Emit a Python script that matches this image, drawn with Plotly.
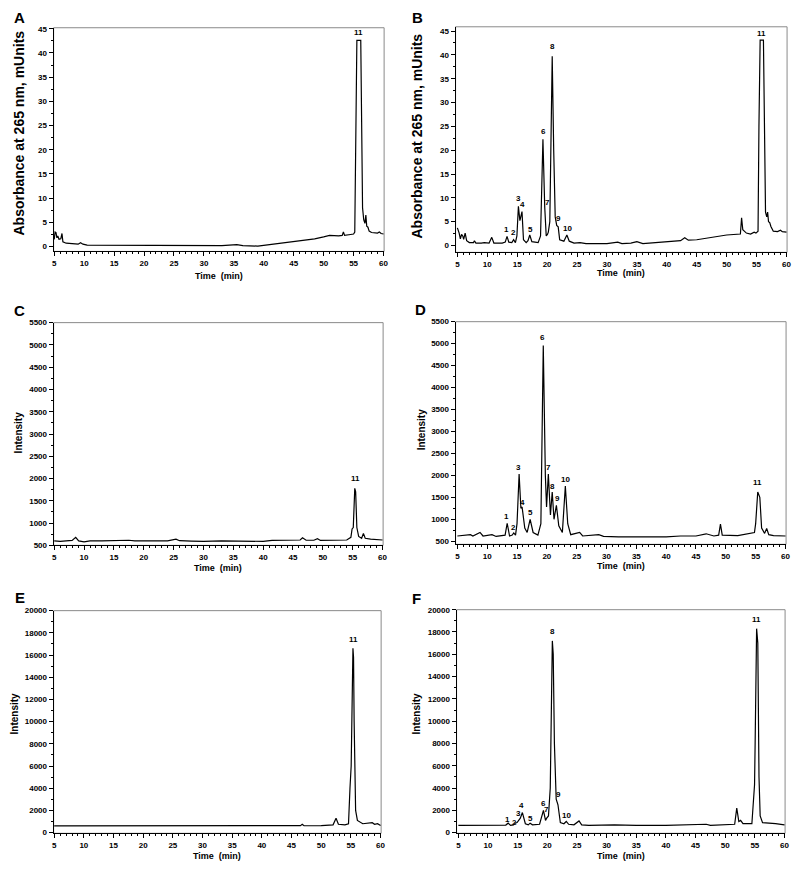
import plotly.graph_objects as go

# ---------------- data ----------------
# Panel A : absorbance (mUnits) vs time (min)
tA = [5.0, 5.15, 5.3, 5.45, 5.6, 5.8, 6.1, 6.3, 6.45, 7.0, 8.0, 9.0, 9.4, 9.8, 10.5, 15, 20, 24, 27, 30, 33,
      35.5, 36.5, 39, 41, 43, 45, 47, 48.5, 50, 51, 52.5, 53.1, 53.3, 53.5, 54.5, 55.0, 55.2, 55.35, 55.45,
      55.5, 55.55, 56.2, 56.35, 56.5, 56.7, 56.9, 57.05, 57.2, 57.4, 57.6, 58, 59, 59.3, 59.6, 60]
yA = [1.5, 3.0, 2.9, 1.8, 2.2, 1.5, 1.6, 2.7, 1.0, 0.7, 0.6, 0.5, 0.8, 0.5, 0.3, 0.3, 0.3, 0.3, 0.2, 0.15, 0.2,
      0.4, 0.2, 0.1, 0.4, 0.7, 1.0, 1.3, 1.6, 2.0, 2.3, 2.2, 2.3, 3.0, 2.3, 2.5, 2.6, 3.0, 20, 42.6,
      38.2, 42.6, 42.6, 20, 8, 5.5, 4.8, 6.5, 4.2, 4.0, 3.2, 2.9, 2.8, 3.0, 2.7, 2.6]

# Panel B
tB = [5.0, 5.15, 5.3, 5.5, 5.7, 5.9, 6.05, 6.3, 6.55, 7.0, 7.7, 7.85, 8.1, 9.0, 9.5, 10.3, 10.75, 11.1, 12.5,
      13.0, 13.3, 13.6, 14.1, 14.4, 14.7, 14.95, 15.2, 15.45, 15.6, 15.8, 16.05, 16.5, 16.8, 17.1, 17.45,
      18.5, 18.9, 19.3, 19.6, 19.85, 20.05, 20.2, 20.45, 20.85, 21.1, 21.35, 21.6, 21.85, 22.1, 22.8, 23.3,
      23.7, 24.5, 25.5, 26.5, 30, 31.8, 32.5, 34, 35, 36, 40, 42.3, 43.0, 43.6, 45, 47, 50, 52.3, 52.5,
      52.7, 53.0, 53.3, 54, 54.6, 54.9, 55.25, 55.4, 55.5, 55.55, 55.6, 56.15, 56.35, 56.5, 56.7, 56.85,
      57.0, 57.2, 57.4, 57.8, 58.5, 59.0, 59.3, 60]
yB = [3.7, 3.2, 2.6, 1.4, 2.3, 2.0, 1.3, 2.6, 1.0, 0.6, 0.6, 1.0, 0.5, 0.5, 0.6, 0.5, 1.7, 0.5, 0.5,
      0.7, 1.9, 0.7, 0.6, 1.2, 0.6, 2.0, 8.2, 5.2, 6.0, 7.1, 1.2, 0.6, 1.0, 2.2, 0.8,
      0.6, 2.0, 22.3, 8.0, 2.0, 2.3, 2.8, 5.0, 39.7, 20.0, 6.0, 4.2, 3.9, 1.2, 0.9, 2.2,
      0.9, 0.5, 0.6, 0.4, 0.4, 0.7, 0.4, 0.5, 0.8, 0.4, 0.7, 1.0, 1.6, 1.1, 1.2, 1.6, 2.2, 2.4, 5.8,
      3.3, 3.0, 2.6, 2.4, 2.8, 2.6, 3.0, 25.0, 43.1, 30.8, 43.1, 43.1, 15.0, 7.0, 6.0, 7.0,
      5.0, 4.8, 4.0, 3.0, 2.9, 3.2, 2.9, 2.8]

# Panel C : intensity
tC = [5.0, 6, 7, 8, 8.6, 9.1, 10, 11, 13, 15, 16, 17.5, 18.5, 22, 24, 25.4, 26, 28, 30, 33, 37, 40, 41.5,
      44, 46.2, 46.6, 47.2, 48.5, 49.1, 49.6, 52, 54, 54.7, 54.9, 55.1, 55.35, 55.5, 55.7, 56.0, 56.5,
      56.8, 57.1, 58, 59, 60]
yC = [600, 590, 600, 610, 680, 600, 580, 600, 600, 610, 600, 615, 600, 600, 600, 640, 605, 595, 590, 600,
      595, 590, 610, 610, 620, 670, 615, 615, 650, 610, 615, 620, 680, 870, 900, 1780, 1700, 900, 700, 660,
      770, 660, 640, 630, 620]

# Panel D
tD = [5.0, 6, 7.2, 7.6, 8.8, 9.3, 10.8, 11.5, 13.0, 13.35, 13.75, 14.2, 14.45, 14.75, 15.0, 15.35, 15.65,
      15.85, 16.3, 16.7, 17.2, 17.7, 18.5, 19.0, 19.4, 19.75, 19.95, 20.25, 20.6, 20.9, 21.2, 21.6, 22.0,
      22.6, 23.1, 23.5, 24.0, 25.5, 26.0, 28.7, 29.5, 32, 40, 42.4, 45, 46.7, 47.3, 48, 48.8, 49.1, 49.4,
      52, 54.8, 55.0, 55.35, 55.7, 56.0, 56.5, 56.85, 57.2, 58, 60]
yD = [620, 630, 650, 620, 700, 620, 650, 610, 640, 910, 620, 640, 690, 640, 900, 2030, 1250,
      1280, 800, 700, 1000, 700, 640, 900, 4960, 2000, 1280, 2030, 1100, 1620, 1000, 1320, 850,
      700, 1760, 900, 650, 700, 620, 650, 610, 600, 600, 620, 620, 670, 650, 620, 640, 890, 640,
      630, 700, 900, 1620, 1500, 800, 680, 790, 650, 630, 620]

# Panel E
tE = [5.0, 15, 25, 35, 45, 46.5, 46.8, 47.1, 50, 52.0, 52.5, 52.9, 54.0, 54.6, 54.85, 54.95, 55.05, 55.35,
      55.45, 55.55, 55.8, 56.1, 57.0, 58.6, 59.0, 59.5, 60]
yE = [600, 610, 620, 600, 620, 630, 750, 620, 630, 700, 1300, 750, 700, 800, 4000, 5600, 6000, 16600,
      15800, 10000, 2000, 1100, 800, 900, 750, 800, 650]

# Panel F
tF = [5.0, 12, 13.0, 13.4, 13.8, 14.3, 14.6, 14.9, 15.2, 15.45, 15.8, 16.3, 16.8, 17.1, 17.5, 18.7, 19.35,
      19.7, 19.9, 20.2, 20.5, 20.85, 21.0, 21.2, 21.5, 21.8, 22.2, 22.8, 23.2, 23.6, 24.5, 25.35, 25.8, 27,
      31.3, 35, 40, 46.8, 47.5, 50, 51.6, 51.95, 52.3, 52.6, 53.0, 54.5, 54.8, 54.95, 55.05, 55.3, 55.5,
      55.7, 55.9, 56.3, 58.5, 60]
yF = [650, 650, 680, 850, 650, 700, 850, 900, 1100, 1300, 1800, 800, 700, 850, 700, 750, 2000,
      1100, 1300, 1500, 4000, 17200, 16000, 8000, 3000, 2500, 900, 800, 1000, 750, 700, 1050, 700, 650,
      700, 650, 650, 750, 650, 700, 750, 2200, 1000, 1100, 800, 800, 3500, 4300, 8000, 18300, 17000,
      5000, 1500, 900, 800, 700]

# peak-number labels (text, time, height)
lab_A = [("11", 55.9, 44.3)]
lab_B = [("1", 13.26, 3.4), ("2", 14.37, 2.7), ("3", 15.2, 9.8), ("4", 15.9, 8.5), ("5", 17.14, 3.3),
         ("6", 19.36, 24.0), ("7", 20.08, 9.1), ("8", 20.9, 41.7), ("9", 21.9, 5.7), ("10", 23.4, 3.6),
         ("11", 55.85, 44.4)]
lab_C = [("11", 55.4, 2000)]
lab_D = [("1", 13.3, 1070), ("2", 14.4, 823), ("3", 15.3, 2177), ("4", 15.95, 1390), ("5", 17.2, 1162),
         ("6", 19.3, 5140), ("7", 20.3, 2177), ("8", 20.95, 1740), ("9", 21.8, 1470), ("10", 23.1, 1910),
         ("11", 55.3, 1840)]
lab_E = [("11", 55.4, 17400)]
lab_F = [("1", 13.3, 1190), ("2", 14.4, 950), ("3", 15.1, 1720), ("4", 15.7, 2400), ("5", 17.2, 1250),
         ("6", 19.3, 2600), ("7", 19.95, 2080), ("8", 20.9, 18000), ("9", 21.9, 3420), ("10", 23.3, 1550),
         ("11", 55.2, 19100)]

# ---------------- figure ----------------
FONT = "Liberation Sans, Arial, sans-serif"
panels = [
    # letter, t, y, labels, xdomain, ydomain, yrange, ydtick, ytick0, ytitle
    ("A", tA, yA, lab_A, [0.065, 0.48125], [0.7123, 0.9724], [-1.0, 45.2], 5, 0, "Absorbance at 265 nm, mUnits"),
    ("B", tB, yB, lab_B, [0.57125, 0.98875], [0.7112, 0.9735], [-1.45, 45.9], 5, 0, "Absorbance at 265 nm, mUnits"),
    ("C", tC, yC, lab_C, [0.065, 0.48], [0.3705, 0.6295], [500, 5500], 500, 500, "Intensity"),
    ("D", tD, yD, lab_D, [0.57125, 0.9875], [0.3717, 0.6306], [430, 5500], 500, 500, "Intensity"),
    ("E", tE, yE, lab_E, [0.065, 0.4775], [0.0357, 0.2946], [-60, 20000], 2000, 0, "Intensity"),
    ("F", tF, yF, lab_F, [0.5725, 0.98625], [0.0357, 0.2957], [-60, 20000], 2000, 0, "Intensity"),
]
# positions of the letters / titles in pixels (x, y) of the 800x869 page
letter_pos = {"A": (18, 14), "B": (419, 14), "C": (18, 310), "D": (422, 309), "E": (18, 600), "F": (418, 601)}
ytitle_pos = {"A": (17, 130), "B": (418, 133), "C": (17, 433), "D": (423, 430), "E": (13, 717), "F": (418, 717)}
xtitle_y = {"A": 275, "B": 272, "C": 570, "D": 568, "E": 861, "F": 861}

W, H = 800, 869
fig = go.Figure()
layout = dict(width=W, height=H, margin=dict(l=0, r=0, t=0, b=0), paper_bgcolor="white",
              plot_bgcolor="white", showlegend=False)
annotations = []
shapes = []
for i, (let, t, y, labs, xd, yd, yr, ydt, y0, ytitle) in enumerate(panels):
    n = "" if i == 0 else str(i + 1)
    xa, ya = "x" + n, "y" + n
    fig.add_trace(go.Scatter(x=t, y=y, mode="lines", line=dict(color="black", width=1.2),
                             xaxis=xa, yaxis=ya, hoverinfo="skip"))
    xr = [4.9, 60.1] if let in "ACE" else [4.7, 60.1]
    layout["xaxis" + n] = dict(domain=xd, anchor=ya, range=xr, tick0=0, dtick=5, ticks="outside",
                               ticklen=4, tickwidth=1, tickcolor="black", showline=True, linecolor="black",
                               linewidth=1, showgrid=False, zeroline=False,
                               tickfont=dict(family=FONT, size=8, color="black", weight="bold"),
                               minor=dict(dtick=1, ticks="outside", ticklen=2, tickcolor="black", showgrid=False))
    layout["yaxis" + n] = dict(domain=yd, anchor=xa, range=yr, tick0=y0, dtick=ydt, ticks="outside",
                               ticklen=4, tickwidth=1, tickcolor="black", showline=True, linecolor="black",
                               linewidth=1, showgrid=False, zeroline=False, tickformat="d",
                               tickfont=dict(family=FONT, size=8, color="black", weight="bold"),
                               minor=dict(dtick=ydt / 2, ticks="outside", ticklen=2, tickcolor="black", showgrid=False))
    shapes.append(dict(type="rect", xref=xa + " domain", yref=ya + " domain", x0=0, x1=1, y0=0, y1=1,
                       line=dict(color="#8a8a8a", width=1), layer="below"))
    for txt, tx, ty in labs:
        annotations.append(dict(text=txt, x=tx, y=ty, xref=xa, yref=ya, showarrow=False,
                                xanchor="center", yanchor="middle",
                                font=dict(family=FONT, size=8, color="black", weight="bold")))
    lx, ly = letter_pos[let]
    annotations.append(dict(text=let, x=lx / W, y=1 - ly / H, xref="paper", yref="paper", showarrow=False,
                            xanchor="center", yanchor="middle",
                            font=dict(family=FONT, size=15, color="black", weight="bold")))
    tx_, ty_ = ytitle_pos[let]
    big = ytitle.startswith("Abs")
    annotations.append(dict(text=ytitle, x=tx_ / W, y=1 - ty_ / H, xref="paper", yref="paper", showarrow=False,
                            textangle=-90, xanchor="center", yanchor="middle",
                            font=dict(family=FONT, size=14 if big else 10, color="black", weight="bold")))
    annotations.append(dict(text="Time  (min)", x=(xd[0] + xd[1]) / 2, y=1 - xtitle_y[let] / H,
                            xref="paper", yref="paper", showarrow=False, xanchor="center", yanchor="middle",
                            font=dict(family=FONT, size=9, color="black", weight="bold")))

layout["annotations"] = annotations
layout["shapes"] = shapes
fig.update_layout(**layout)
fig.write_html("out.html", config={"displayModeBar": False},
               post_script="document.body.style.margin='0';document.body.style.overflow='hidden';")
